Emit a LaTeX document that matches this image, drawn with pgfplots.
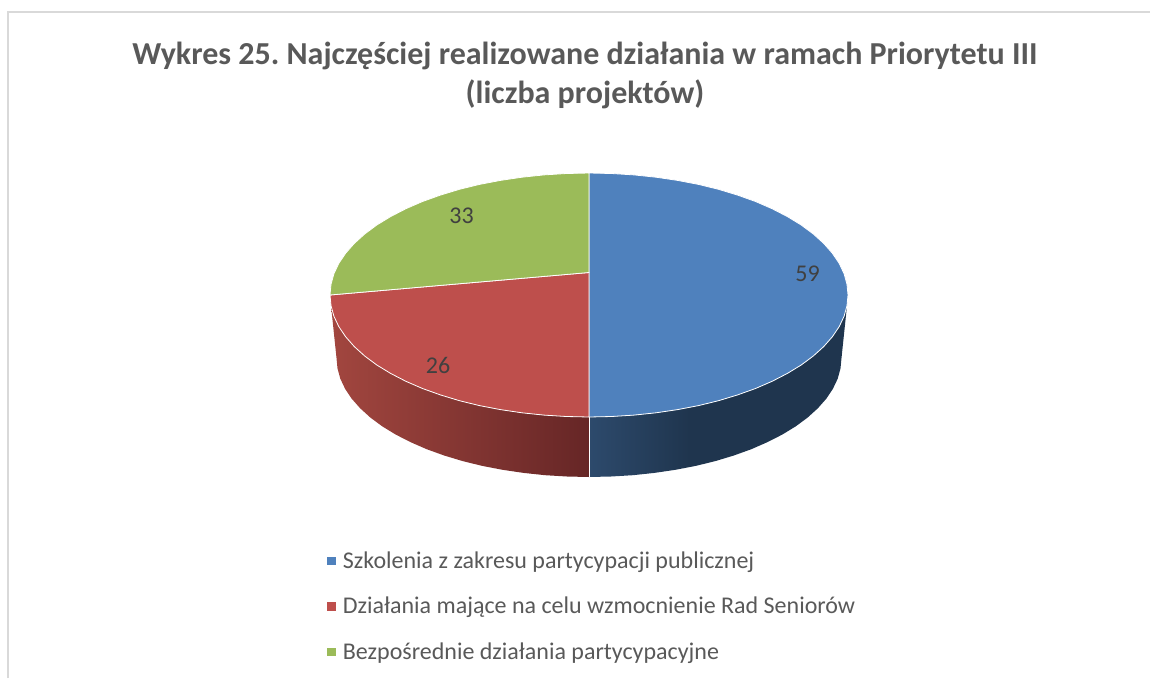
\documentclass[border=0pt]{standalone}
\usepackage{pgfplots}
\pgfplotsset{compat=1.18}
\usepackage{fontspec}
\setmainfont{Carlito}
\frenchspacing
\definecolor{cblue}{HTML}{4F81BD}
\definecolor{cred}{HTML}{BE4F4C}
\definecolor{cgreen}{HTML}{9BBB59}
\definecolor{titlegray}{HTML}{595959}
\definecolor{labelgray}{HTML}{404040}
\definecolor{framegray}{HTML}{D9D9D9}
\definecolor{wallA}{RGB}{45,74,108}
\definecolor{wallB}{RGB}{31,53,78}
\pgfdeclarehorizontalshading{bluewall}{100bp}{color(0bp)=(wallA); color(25bp)=(wallA); color(44.5bp)=(wallB); color(100bp)=(wallB)}
\begin{document}
\begin{tikzpicture}
\useasboundingbox (0,0) rectangle (1150pt,678pt);
\begin{axis}[
  at={(0,0)}, anchor=south west,
  scale only axis, width=1150pt, height=678pt,
  xmin=0, xmax=1150, ymin=0, ymax=678, y dir=reverse,
  hide axis,
  title={Wykres 25. Najczęściej realizowane działania w ramach Priorytetu III\\(liczba projektów)},
  title style={at={(axis description cs:0.5087,0.8805)}, anchor=center, align=center,
    font=\fontsize{32}{39}\selectfont\bfseries, text=titlegray},
  legend style={at={(axis description cs:0.2842,0.0)}, anchor=south west, draw=none, fill=none,
    font=\fontsize{24}{28}\selectfont, text=titlegray, row sep=27.5pt, inner sep=0pt, outer ysep=17pt,
    nodes={inner sep=0pt}},
  legend cell align=left,
  legend image code/.code={\path[#1] (0pt,0pt) -- plot coordinates {(4pt,0pt)} ;},
]
% frame
\addplot[framegray, line width=2pt, forget plot] coordinates {(8,678) (8,12) (1150,12)};

% side wall, blue
\addplot[draw=none, shading=bluewall, forget plot] coordinates {
(589,417)(611.6,416.5)(634,415.1)(656,412.8)(677.6,409.6)(698.5,405.6)(718.5,400.7)(737.6,394.9)(755.5,388.5)(772.1,381.3)(787.4,373.4)(801.2,365)(813.3,356)(823.7,346.6)(832.4,336.7)(839.2,326.6)(844.1,316.2)(847,305.6)
(841.5,358)(840.5,368.4)(837.7,378.7)(832.9,388.8)(826.3,398.7)(817.8,408.3)(807.7,417.5)(795.8,426.3)(782.4,434.5)(767.5,442.1)(751.3,449.2)(733.8,455.5)(715.3,461.1)(695.7,465.9)(675.4,469.8)(654.4,472.9)(632.8,475.2)(611,476.5)(589,477)
} -- cycle;
% side wall, red
\addplot[draw=none, left color={rgb,255:red,162;green,70;blue,63}, right color={rgb,255:red,102;green,38;blue,38}, forget plot] coordinates {
(589,417)(566.4,416.5)(544,415.1)(522,412.8)(500.4,409.6)(479.5,405.6)(459.5,400.7)(440.4,394.9)(422.5,388.5)(405.9,381.3)(390.6,373.4)(376.8,365)(364.7,356)(354.3,346.6)(345.6,336.7)(338.8,326.6)(333.9,316.2)(331,305.6)
(336.5,358)(337.5,368.4)(340.3,378.7)(345.1,388.8)(351.7,398.7)(360.2,408.3)(370.3,417.5)(382.2,426.3)(395.6,434.5)(410.5,442.1)(426.7,449.2)(444.2,455.5)(462.7,461.1)(482.3,465.9)(502.6,469.8)(523.6,472.9)(545.2,475.2)(567,476.5)(589,477)
} -- cycle;
\addplot[white, line width=0.8pt, forget plot] coordinates {(589,417)(589,477)};

% top: slice 59
\addplot[draw=white, line width=0.8pt, fill=cblue, forget plot] coordinates {
(589,272.5)(589,173)(611.6,173.5)(634,174.9)(656,177.2)(677.6,180.4)(698.5,184.4)(718.5,189.3)(737.6,195.1)(755.5,201.5)(772.1,208.7)(787.4,216.6)(801.2,225)(813.3,234)(823.7,243.4)(832.4,253.3)(839.2,263.4)(844.1,273.8)(847,284.4)(848,295)(847,305.6)(844.1,316.2)(839.2,326.6)(832.4,336.7)(823.7,346.6)(813.3,356)(801.2,365)(787.4,373.4)(772.1,381.3)(755.5,388.5)(737.6,394.9)(718.5,400.7)(698.5,405.6)(677.6,409.6)(656,412.8)(634,415.1)(611.6,416.5)(589,417)
} -- cycle;
% top: slice 26
\addplot[draw=white, line width=0.8pt, fill=cred, forget plot] coordinates {
(589,272.5)(589,417)(566.4,416.5)(544,415.1)(522,412.8)(500.4,409.6)(479.5,405.6)(459.5,400.7)(440.4,394.9)(422.5,388.5)(405.9,381.3)(390.6,373.4)(376.8,365)(364.7,356)(354.3,346.6)(345.6,336.7)(338.8,326.6)(333.9,316.2)(331,305.6)(330,295)
} -- cycle;
% top: slice 33
\addplot[draw=white, line width=0.8pt, fill=cgreen, forget plot] coordinates {
(589,272.5)(330,295)(331,284.4)(333.9,273.8)(338.8,263.4)(345.6,253.3)(354.3,243.4)(364.7,234)(376.8,225)(390.6,216.6)(405.9,208.7)(422.5,201.5)(440.4,195.1)(459.5,189.3)(479.5,184.4)(500.4,180.4)(522,177.2)(544,174.9)(566.4,173.5)(589,173)
} -- cycle;

% data labels
\addplot[draw=none, mark=none, forget plot, point meta=explicit symbolic, nodes near coords,
  nodes near coords style={anchor=center, inner sep=0pt, font=\fontsize{24}{28}\selectfont, text=labelgray}]
  coordinates {(807.5,274)[59] (438,365.5)[26] (461.5,215.5)[33]};

% legend
\addlegendimage{only marks, mark=square*, mark size=3.7pt, color=cblue}
\addlegendentry{\hspace{8pt}Szkolenia z zakresu partycypacji publicznej}
\addlegendimage{only marks, mark=square*, mark size=3.7pt, color=cred}
\addlegendentry{\hspace{8pt}Działania mające na celu wzmocnienie Rad Seniorów}
\addlegendimage{only marks, mark=square*, mark size=3.7pt, color=cgreen}
\addlegendentry{\hspace{8pt}Bezpośrednie działania partycypacyjne}
\end{axis}
\end{tikzpicture}
\end{document}
